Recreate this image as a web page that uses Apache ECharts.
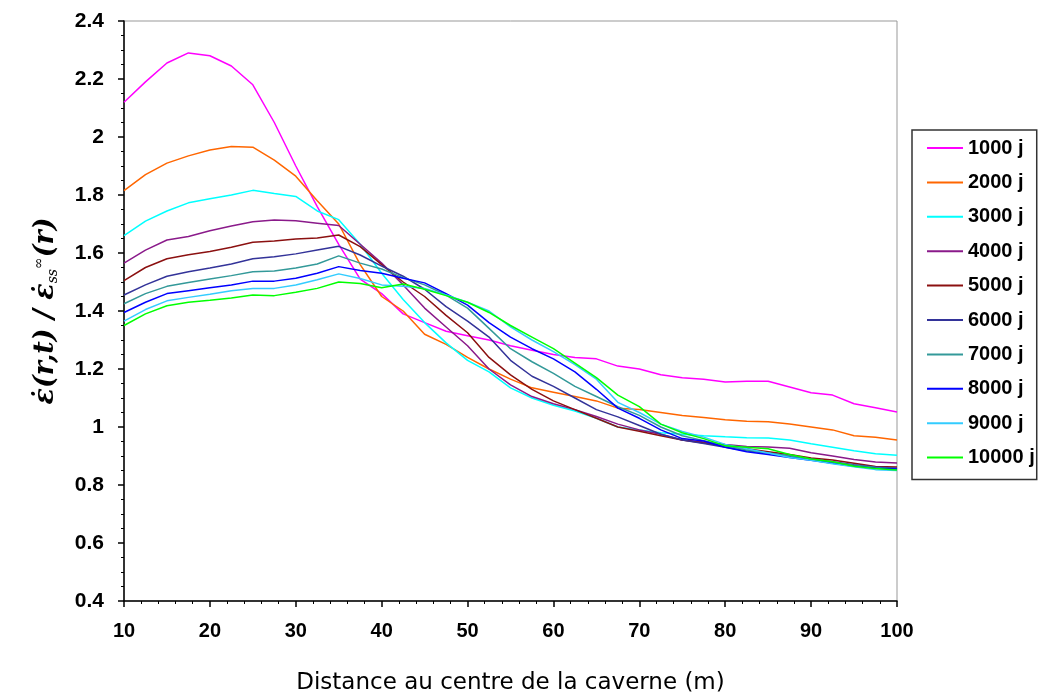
<!DOCTYPE html>
<html lang="fr">
  <head>
    <meta charset="UTF-8" />
    <title>Vitesse de déformation normalisée</title>
    <style>
      * {
        padding: 0;
        margin: 0;
      }
      body {
        background: #fff;
      }
    </style>
    <script src="https://cdn.jsdelivr.net/npm/echarts@6/dist/echarts.min.js"></script>
  </head>
  <body>
    <div id="main" style="width: 1039px; height: 695px;"></div>
    <script type="text/javascript">
      // distance au centre (m)
      var dist = [10, 12.5, 15, 17.5, 20, 22.5, 25, 27.5, 30, 32.5, 35, 37.5, 40, 42.5, 45, 47.5,
        50, 52.5, 55, 57.5, 60, 62.5, 65, 67.5, 70, 72.5, 75, 77.5, 80, 82.5, 85, 87.5, 90,
        92.5, 95, 97.5, 100];

      var legendNames = ['1000 j', '2000 j', '3000 j', '4000 j', '5000 j',
        '6000 j', '7000 j', '8000 j', '9000 j', '10000 j'];
      var colors = ['#ff00ff', '#ff6600', '#00ffff', '#8a1a8a', '#8b1010',
        '#333399', '#339999', '#0000ff', '#33ccff', '#00ff00'];

      var j1000 = [2.12, 2.19, 2.255, 2.29, 2.28, 2.245, 2.18, 2.05, 1.90, 1.76, 1.63, 1.51, 1.46,
        1.39, 1.36, 1.33, 1.315, 1.30, 1.28, 1.265, 1.25, 1.24, 1.235, 1.21, 1.20, 1.18, 1.17,
        1.165, 1.155, 1.158, 1.158, 1.138, 1.118, 1.11, 1.08, 1.066, 1.052];
      var j2000 = [1.815, 1.87, 1.91, 1.935, 1.955, 1.967, 1.965, 1.92, 1.865, 1.78, 1.70, 1.56,
        1.45, 1.40, 1.32, 1.285, 1.24, 1.20, 1.165, 1.135, 1.12, 1.105, 1.09, 1.065, 1.06, 1.05,
        1.04, 1.033, 1.025, 1.02, 1.018, 1.01, 1.00, 0.99, 0.97, 0.965, 0.955];
      var j3000 = [1.66, 1.71, 1.745, 1.773, 1.787, 1.80, 1.816, 1.805, 1.795, 1.745, 1.715, 1.63,
        1.53, 1.44, 1.36, 1.29, 1.23, 1.19, 1.135, 1.10, 1.075, 1.055, 1.03, 1.00, 0.99, 0.98,
        0.975, 0.97, 0.966, 0.963, 0.962, 0.955, 0.942, 0.93, 0.918, 0.908, 0.903];
      var j4000 = [1.565, 1.61, 1.645, 1.657, 1.677, 1.693, 1.708, 1.714, 1.711, 1.703, 1.695, 1.63,
        1.565, 1.49, 1.41, 1.345, 1.28, 1.20, 1.145, 1.105, 1.08, 1.06, 1.036, 1.01, 0.99, 0.975,
        0.955, 0.948, 0.94, 0.933, 0.931, 0.927, 0.911, 0.90, 0.888, 0.879, 0.876];
      var j5000 = [1.505, 1.55, 1.58, 1.594, 1.605, 1.62, 1.637, 1.641, 1.648, 1.652, 1.662, 1.622,
        1.56, 1.50, 1.45, 1.385, 1.325, 1.24, 1.18, 1.13, 1.09, 1.06, 1.03, 1.00, 0.985, 0.97,
        0.955, 0.945, 0.935, 0.925, 0.915, 0.905, 0.893, 0.886, 0.875, 0.864, 0.862];
      var j6000 = [1.455, 1.49, 1.52, 1.535, 1.548, 1.562, 1.58, 1.587, 1.597, 1.61, 1.623, 1.593,
        1.555, 1.52, 1.475, 1.415, 1.365, 1.31, 1.23, 1.175, 1.14, 1.10, 1.06, 1.035, 1.005, 0.975,
        0.955, 0.943, 0.93, 0.918, 0.91, 0.90, 0.89, 0.88, 0.87, 0.862, 0.858];
      var j7000 = [1.425, 1.46, 1.485, 1.498, 1.51, 1.522, 1.535, 1.538, 1.548, 1.562, 1.59, 1.565,
        1.545, 1.515, 1.49, 1.455, 1.41, 1.34, 1.27, 1.225, 1.185, 1.14, 1.105, 1.07, 1.04, 1.00,
        0.97, 0.953, 0.935, 0.92, 0.91, 0.90, 0.888, 0.878, 0.868, 0.86, 0.855];
      var j8000 = [1.395, 1.43, 1.46, 1.47, 1.48, 1.49, 1.503, 1.503, 1.513, 1.53, 1.553, 1.54,
        1.53, 1.513, 1.497, 1.46, 1.42, 1.36, 1.31, 1.27, 1.235, 1.19, 1.13, 1.065, 1.03, 0.99,
        0.96, 0.952, 0.93, 0.915, 0.905, 0.895, 0.885, 0.875, 0.865, 0.858, 0.855];
      var j9000 = [1.365, 1.405, 1.435, 1.447, 1.458, 1.47, 1.478, 1.478, 1.49, 1.508, 1.528, 1.512,
        1.49, 1.485, 1.478, 1.455, 1.43, 1.40, 1.345, 1.30, 1.26, 1.215, 1.165, 1.085, 1.05, 1.01,
        0.985, 0.965, 0.94, 0.925, 0.91, 0.895, 0.885, 0.873, 0.863, 0.853, 0.85];
      var j10000 = [1.35, 1.39, 1.418, 1.43, 1.437, 1.445, 1.455, 1.453, 1.465, 1.478, 1.50, 1.495,
        1.48, 1.493, 1.475, 1.453, 1.43, 1.395, 1.35, 1.31, 1.27, 1.22, 1.17, 1.11, 1.07, 1.01,
        0.98, 0.96, 0.935, 0.93, 0.925, 0.905, 0.89, 0.88, 0.865, 0.857, 0.852];

      var allSeries = [j1000, j2000, j3000, j4000, j5000, j6000, j7000, j8000, j9000, j10000];

      var myChart = echarts.init(document.getElementById('main'));

      var option = {
        animation: false,
        backgroundColor: '#fff',
        color: colors,
        grid: {
          left: 124,
          right: 142,
          top: 21,
          bottom: 94,
          outerBoundsMode: 'none',
          show: true,
          borderColor: '#999',
          borderWidth: 1
        },
        legend: {
          orient: 'vertical',
          left: 912,
          top: 130,
          data: legendNames,
          icon: 'rect',
          itemWidth: 36,
          itemHeight: 2,
          itemGap: 14.4,
          padding: [8, 2, 12, 15],
          borderColor: '#333',
          borderWidth: 1.5,
          textStyle: {
            fontFamily: 'Liberation Sans, Arial, sans-serif',
            fontWeight: 'bold',
            fontSize: 20,
            color: '#000',
            lineHeight: 20
          }
        },
        xAxis: {
          type: 'value',
          min: 10,
          max: 100,
          interval: 10,
          name: 'Distance au centre de la caverne (m)',
          nameLocation: 'middle',
          nameGap: 71,
          nameTextStyle: {
            fontFamily: 'DejaVu Sans, Verdana, sans-serif',
            fontSize: 23,
            color: '#000'
          },
          axisLine: {lineStyle: {color: '#000', width: 1.5}},
          axisTick: {length: 6, lineStyle: {color: '#000', width: 1.5}},
          minorTick: {show: true, splitNumber: 5, length: 3, lineStyle: {color: '#000'}},
          splitLine: {show: false},
          axisLabel: {
            margin: 20,
            fontFamily: 'Liberation Sans Narrow, Liberation Sans, Arial, sans-serif',
            fontWeight: 'bold',
            fontSize: 20,
            color: '#000'
          }
        },
        yAxis: {
          type: 'value',
          min: 0.4,
          max: 2.4,
          interval: 0.2,
          name: '{a|ε̇(r,t) / ε̇}{sub|ss}{sup|∞}{a|(r)}',
          nameLocation: 'middle',
          nameGap: 64,
          nameRotate: 90,
          nameTextStyle: {
            rich: {
              a: {
                fontFamily: 'DejaVu Serif, Liberation Serif, serif',
                fontStyle: 'italic',
                fontWeight: 'bold',
                fontSize: 27,
                color: '#000'
              },
              sub: {
                fontFamily: 'DejaVu Serif, Liberation Serif, serif',
                fontStyle: 'italic',
                fontSize: 14,
                color: '#000',
                padding: [14, 0, 0, 0]
              },
              sup: {
                fontFamily: 'DejaVu Serif, Liberation Serif, serif',
                fontSize: 14,
                color: '#000',
                padding: [0, 0, 14, 0]
              }
            }
          },
          axisLine: {show: true, lineStyle: {color: '#000', width: 1.5}},
          axisTick: {show: true, length: 6, lineStyle: {color: '#000', width: 1.5}},
          minorTick: {show: true, splitNumber: 4, length: 3, lineStyle: {color: '#000'}},
          splitLine: {show: false},
          axisLabel: {
            margin: 20,
            fontFamily: 'Liberation Sans, Arial, sans-serif',
            fontWeight: 'bold',
            fontSize: 21,
            color: '#000',
            formatter: function (v) {
              return String(+v.toFixed(1));
            }
          }
        },
        series: legendNames.map(function (name, i) {
          return {
            name: name,
            type: 'line',
            symbol: 'none',
            lineStyle: {width: 1.5, color: colors[i]},
            itemStyle: {color: colors[i]},
            data: dist.map(function (x, k) {
              return [x, allSeries[i][k]];
            })
          };
        })
      };

      myChart.setOption(option, true);
    </script>
  </body>
</html>
